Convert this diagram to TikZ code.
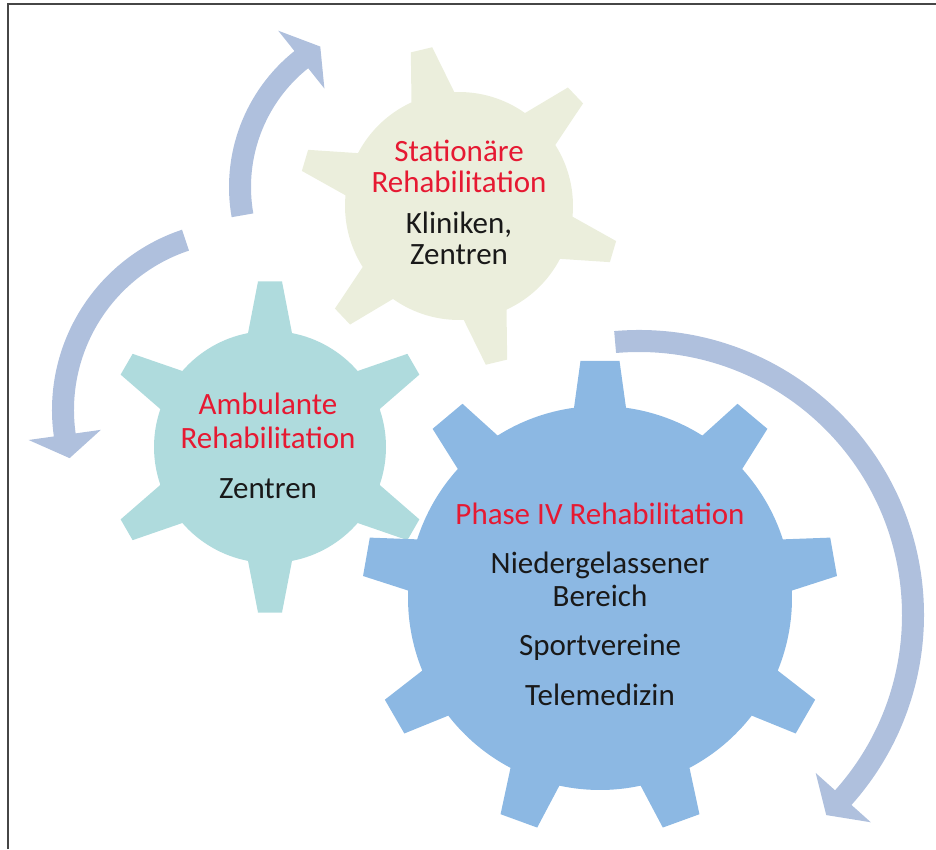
\documentclass[tikz,border=0pt]{standalone}
\usepackage{fontspec}
\setmainfont{Carlito}
\definecolor{cogbeige}{RGB}{235,238,220}
\definecolor{cogteal}{RGB}{175,219,221}
\definecolor{cogblue}{RGB}{140,184,227}
\definecolor{arrowblue}{RGB}{175,192,221}
\definecolor{headred}{RGB}{230,25,50}
\definecolor{itemblack}{RGB}{25,25,25}
\definecolor{framegray}{RGB}{70,70,70}

% cog: centre x, centre y, teeth, first tooth angle, body radius,
%      tip radius, half width at base, half width at tip, fill colour
\newcommand{\drawcog}[9]{%
  \pgfmathsetmacro{\cogDb}{asin(#7/#5)}%
  \pgfmathsetmacro{\cogDt}{asin(#8/#6)}%
  \pgfmathsetmacro{\cogSt}{360/#3}%
  \pgfmathtruncatemacro{\cogLast}{#3-1}%
  \fill[#9, shift={(#1,#2)}] ({#4-\cogDb}:#5)
    \foreach \k in {0,...,\cogLast}{
      -- ({#4+\k*\cogSt-\cogDt}:#6) -- ({#4+\k*\cogSt+\cogDt}:#6)
      -- ({#4+\k*\cogSt+\cogDb}:#5)
      arc[start angle={#4+\k*\cogSt+\cogDb},
          end angle={#4+(\k+1)*\cogSt-\cogDb}, radius=#5]
    } -- cycle;
}

% circular block arrow: centre x, centre y, radius, half shaft width,
%      tail angle, head base angle, tip angle, half head width
\newcommand{\circarrow}[8]{%
  \pgfmathsetmacro{\carOut}{#3+#4}\pgfmathsetmacro{\carIn}{#3-#4}%
  \pgfmathsetmacro{\carHo}{#3+#8}\pgfmathsetmacro{\carHi}{#3-#8}%
  \fill[arrowblue, shift={(#1,#2)}]
    (#5:\carOut) arc[start angle=#5, end angle=#6, radius=\carOut]
    -- (#6:\carHo) -- (#7:#3) -- (#6:\carHi) -- (#6:\carIn)
    arc[start angle=#6, end angle=#5, radius=\carIn] -- cycle;
}

\begin{document}
\begin{tikzpicture}[x=1pt, y=1pt,
  txt/.style={anchor=base, inner sep=0pt, font=\fontsize{31}{31}\selectfont},
  head/.style={txt, text=headred},
  item/.style={txt, text=itemblack}]
\useasboundingbox (0,0) rectangle (936,849);

% frame (top and left edges)
\draw[line width=2.2, framegray, line join=miter] (8,0) -- (8,845) -- (936,845);

% rotation arrows
\circarrow{403}{662}{163}{11}{190}{128.6}{120.5}{37}
\circarrow{242}{439}{179}{11}{108.4}{188}{195.6}{36.5}
\circarrow{639}{234}{274}{11}{95}{-41.8}{-46.9}{37}

% cogs
\drawcog{459}{643}{6}{103.5}{114}{161}{22}{11}{cogbeige}
\drawcog{270}{402}{6}{90}{116}{166}{22}{12}{cogteal}
\drawcog{600}{251}{9}{90}{192}{238}{26}{19.5}{cogblue}

% stationary rehabilitation
\node[head] (s1) at (459,687.3) {Stationäre};
\node[head] (s2) at (459,656.3) {Rehabilitation};
\node[item] (s3) at (459,615.7) {Kliniken,};
\node[item] (s4) at (459,584) {Zentren};

% outpatient rehabilitation
\node[head] (a1) at (268,434) {Ambulante};
\node[head] (a2) at (268,400.7) {Rehabilitation};
\node[item] (a3) at (268,350.7) {Zentren};

% phase IV
\node[head] (p1) at (600,324.7) {Phase IV Rehabilitation};
\node[item] (p2) at (600,275.7) {Niedergelassener};
\node[item] (p3) at (600,242.3) {Bereich};
\node[item] (p4) at (600,193.3) {Sportvereine};
\node[item] (p5) at (600,144) {Telemedizin};
\end{tikzpicture}
\end{document}
